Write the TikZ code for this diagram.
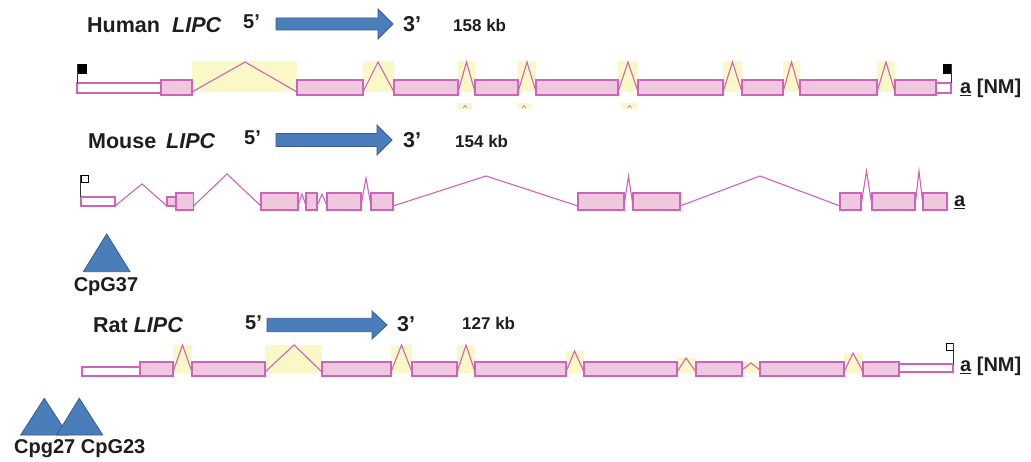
\documentclass[tikz,border=0pt]{standalone}
\usepackage{fontspec}
\setmainfont{Liberation Sans}
\definecolor{exfill}{RGB}{239,200,224}
\definecolor{exline}{RGB}{205,100,185}
\definecolor{intyel}{RGB}{250,248,198}
\definecolor{arblue}{RGB}{74,126,187}
\definecolor{arline}{RGB}{56,93,138}
\definecolor{txt}{RGB}{30,30,30}
\tikzset{
  exon/.style={rectangle, draw=exline, fill=exfill, line width=1.2pt, inner sep=0pt, outer sep=0pt},
  utr/.style={exon, fill=white},
  intron/.style={draw=exline, line width=1.1pt},
  hl/.style={fill=intyel},
  lbl/.style={font=\bfseries\fontsize{20}{24}\selectfont, text=txt, inner sep=0pt},
  spc/.style={font=\bfseries\fontsize{21.5}{26}\selectfont, text=txt, inner sep=0pt},
  kb/.style={font=\bfseries\fontsize{17}{21}\selectfont, text=txt, inner sep=0pt},
  flagfull/.style={rectangle, draw=black, fill=black, line width=0.6pt, inner sep=0pt},
  flagopen/.style={rectangle, draw=black, fill=white, line width=0.8pt, inner sep=0pt},
  flagline/.style={draw=black!80, line width=0.9pt},
  bigarrow/.style={draw=arline, fill=arblue, line width=0.8pt, line join=miter},
  cpg/.style={draw=arline, fill=arblue, line width=0.8pt, line join=miter},
}
\newcommand\Ex[6]{\node[#1, minimum width={#4-#3}, minimum height={#6-#5}] (#2) at ({(#3+#4)/2},{(#5+#6)/2}) {};}
\newcommand\BigArrow[6]{\filldraw[bigarrow] (#1,#4-#5) -- (#2,#4-#5) -- (#2,#4-#6) -- (#3,#4) -- (#2,#4+#6) -- (#2,#4+#5) -- (#1,#4+#5) -- cycle;}
\begin{document}
\begin{tikzpicture}[x=1pt,y=-1pt]
\useasboundingbox[fill=white] (0,0) rectangle (1031,462);

%================ HUMAN =================
\node[spc, anchor=base west] (hName) at (87,33) {Human};
\node[spc, anchor=base west] (hGene) at (172,33) {\textit{LIPC}};
\node[lbl, anchor=base west] (h5) at (243,29) {5’};
\BigArrow{276}{378}{393}{24}{6}{15}
\node[spc, anchor=base west] (h3) at (403,32) {3’};
\node[kb, anchor=base west] (hkb) at (453,32) {158 kb};

\fill[hl] (192,61) rectangle (297,92);
\fill[hl] (363,61) rectangle (394,92);
\fill[hl] (458,61) rectangle (475,92);
\fill[hl] (518,61) rectangle (536,92);
\fill[hl] (618,61) rectangle (638,92);
\fill[hl] (723,61) rectangle (742,92);
\fill[hl] (783,61) rectangle (800,92);
\fill[hl] (877,61) rectangle (895,92);
\fill[hl] (458,103) rectangle (472,109.5);
\fill[hl] (517,103) rectangle (531,109.5);
\fill[hl] (622,103) rectangle (637,109.5);
\draw[intron, line width=0.6pt] (463,108) -- (465,105.5) -- (467,108);
\draw[intron, line width=0.6pt] (522,108) -- (524,105.5) -- (526,108);
\draw[intron, line width=0.6pt] (627.5,108) -- (629.5,105.5) -- (631.5,108);

\Ex{utr}{hU1}{77}{161}{83}{93}
\Ex{exon}{hE1}{161}{192}{80}{95}
\Ex{exon}{hE2}{297}{363}{80}{95}
\Ex{exon}{hE3}{394}{458}{80}{95}
\Ex{exon}{hE4}{475}{518}{80}{95}
\Ex{exon}{hE5}{536}{618}{80}{95}
\Ex{exon}{hE6}{638}{723}{80}{95}
\Ex{exon}{hE7}{742}{783}{80}{95}
\Ex{exon}{hE8}{800}{877}{80}{95}
\Ex{exon}{hE9}{895}{936}{80}{95}
\Ex{utr}{hU2}{936}{951}{83}{93}

\coordinate (hP1) at (245,62);
\coordinate (hP2) at (378,62);
\coordinate (hP3) at (466.5,62);
\coordinate (hP4) at (527,62);
\coordinate (hP5) at (628,62);
\coordinate (hP6) at (732.5,62);
\coordinate (hP7) at (791.5,62);
\coordinate (hP8) at (886,62);
\draw[intron] ([yshift=3pt]hE1.south east) -- (hP1) -- ([yshift=3pt]hE2.south west);
\draw[intron] ([yshift=3pt]hE2.south east) -- (hP2) -- ([yshift=3pt]hE3.south west);
\draw[intron] ([yshift=3pt]hE3.south east) -- (hP3) -- ([yshift=3pt]hE4.south west);
\draw[intron] ([yshift=3pt]hE4.south east) -- (hP4) -- ([yshift=3pt]hE5.south west);
\draw[intron] ([yshift=3pt]hE5.south east) -- (hP5) -- ([yshift=3pt]hE6.south west);
\draw[intron] ([yshift=3pt]hE6.south east) -- (hP6) -- ([yshift=3pt]hE7.south west);
\draw[intron] ([yshift=3pt]hE7.south east) -- (hP7) -- ([yshift=3pt]hE8.south west);
\draw[intron] ([yshift=3pt]hE8.south east) -- (hP8) -- ([yshift=3pt]hE9.south west);

\node[flagfull, minimum width=8pt, minimum height=9pt] (hF1) at (82,68.5) {};
\draw[flagline] (hF1.north west) -- (hF1.north west |- hU1.north);
\node[flagfull, minimum width=8pt, minimum height=9pt] (hF2) at (947,68.5) {};
\draw[flagline] (hF2.north east) -- (hF2.north east |- hU2.north);
\node[lbl, anchor=base west] (hNM) at (960,94) {\underline{a} [NM]};

%================ MOUSE =================
\node[spc, anchor=base west] (mName) at (88,149) {Mouse};
\node[spc, anchor=base west] (mGene) at (166,149) {\textit{LIPC}};
\node[lbl, anchor=base west] (m5) at (244,145) {5’};
\BigArrow{276}{377}{392}{140}{6.5}{15}
\node[spc, anchor=base west] (m3) at (403,148) {3’};
\node[kb, anchor=base west] (mkb) at (455,148) {154 kb};

\Ex{utr}{mU1}{81}{115}{197}{206}
\Ex{exon}{mS1}{167}{176}{197}{206}
\Ex{exon}{mE1}{176}{193.5}{193}{210}
\Ex{exon}{mE2}{261}{298}{193}{210}
\Ex{exon}{mE3}{306}{317}{193}{210}
\Ex{exon}{mE4}{327}{361}{193}{210}
\Ex{exon}{mE5}{371}{393}{193}{210}
\Ex{exon}{mE6}{578}{624}{193}{210}
\Ex{exon}{mE7}{633}{680}{193}{210}
\Ex{exon}{mE8}{840}{861}{193}{210}
\Ex{exon}{mE9}{872}{915}{193}{210}
\Ex{exon}{mE10}{923}{947}{193}{210}

\coordinate (mP0) at (142,184);
\coordinate (mP1) at (227,174);
\coordinate (mP2) at (302,194);
\coordinate (mP3) at (322,194);
\coordinate (mP4) at (366,178);
\coordinate (mP5) at (486,176);
\coordinate (mP6) at (628.5,176);
\coordinate (mP7) at (760,176);
\coordinate (mP8) at (866.5,171);
\coordinate (mP9) at (919,171);
\draw[intron] (mU1.south east) -- (mP0) -- (mS1.south west);
\draw[intron] ([yshift=4pt]mE1.south east) -- (mP1) -- ([yshift=4pt]mE2.south west);
\draw[intron] ([yshift=4pt]mE2.south east) -- (mP2) -- ([yshift=4pt]mE3.south west);
\draw[intron] ([yshift=4pt]mE3.south east) -- (mP3) -- ([yshift=4pt]mE4.south west);
\draw[intron] ([yshift=4pt]mE4.south east) -- (mP4) -- ([yshift=4pt]mE5.south west);
\draw[intron] ([yshift=4pt]mE5.south east) -- (mP5) -- ([yshift=4pt]mE6.south west);
\draw[intron] ([yshift=4pt]mE6.south east) -- (mP6) -- ([yshift=4pt]mE7.south west);
\draw[intron] ([yshift=4pt]mE7.south east) -- (mP7) -- ([yshift=4pt]mE8.south west);
\draw[intron] ([yshift=4pt]mE8.south east) -- (mP8) -- ([yshift=4pt]mE9.south west);
\draw[intron] ([yshift=4pt]mE9.south east) -- (mP9) -- ([yshift=4pt]mE10.south west);

\node[flagopen, minimum width=7pt, minimum height=7pt] (mF1) at (84.5,178.5) {};
\draw[flagline] (mF1.north west) -- (mF1.north west |- mU1.north);
\node[lbl, anchor=base west] (mA) at (954,207) {\underline{a}};

% CpG37
\filldraw[cpg] (106.7,234) -- (130,271.7) -- (83.3,271.7) -- cycle;
\node[lbl, anchor=base] (cpg37) at (106,291.5) {CpG37};

%================ RAT =================
\node[spc, anchor=base west] (rName) at (93,333) {Rat \textit{LIPC}};
\node[lbl, anchor=base west] (r5) at (245,330) {5’};
\BigArrow{267}{372}{387}{325}{6.7}{14}
\node[spc, anchor=base west] (r3) at (397,331) {3’};
\node[kb, anchor=base west] (rkb) at (462,329.5) {127 kb};

\fill[hl] (173,345) rectangle (192,373);
\fill[hl] (265,345) rectangle (322,373);
\fill[hl] (391,345) rectangle (412,373);
\fill[hl] (457,345) rectangle (475,373);
\fill[hl] (566,351) rectangle (584,373);
\fill[hl] (677,358) rectangle (696,373);
\fill[hl] (742,362) rectangle (760,373);
\fill[hl] (844,353) rectangle (863,373);

\Ex{utr}{rU1}{82}{140}{367}{376}
\Ex{exon}{rE1}{140}{173}{362}{376}
\Ex{exon}{rE2}{192}{265}{362}{376}
\Ex{exon}{rE3}{322}{391}{362}{376}
\Ex{exon}{rE4}{412}{457}{362}{376}
\Ex{exon}{rE5}{475}{566}{362}{376}
\Ex{exon}{rE6}{584}{677}{362}{376}
\Ex{exon}{rE7}{696}{742}{362}{376}
\Ex{exon}{rE8}{760}{844}{362}{376}
\Ex{exon}{rE9}{863}{899}{362}{376}
\Ex{utr}{rU2}{899}{953}{364}{372}

\coordinate (rP1) at (182.5,345);
\coordinate (rP2) at (294,345);
\coordinate (rP3) at (401.5,345);
\coordinate (rP4) at (466,345);
\coordinate (rP5) at (574.5,351);
\coordinate (rP6) at (686,358);
\coordinate (rP7) at (751,363);
\coordinate (rP8) at (853,353);
\draw[intron] ([yshift=4pt]rE1.south east) -- (rP1) -- ([yshift=4pt]rE2.south west);
\draw[intron] ([yshift=4pt]rE2.south east) -- (rP2) -- ([yshift=4pt]rE3.south west);
\draw[intron] ([yshift=4pt]rE3.south east) -- (rP3) -- ([yshift=4pt]rE4.south west);
\draw[intron] ([yshift=4pt]rE4.south east) -- (rP4) -- ([yshift=4pt]rE5.south west);
\draw[intron] ([yshift=4pt]rE5.south east) -- (rP5) -- ([yshift=4pt]rE6.south west);
\draw[intron] ([yshift=4pt]rE6.south east) -- (rP6) -- ([yshift=4pt]rE7.south west);
\draw[intron] ([yshift=6pt]rE7.south east) -- (rP7) -- ([yshift=6pt]rE8.south west);
\draw[intron] ([yshift=4pt]rE8.south east) -- (rP8) -- ([yshift=4pt]rE9.south west);

\node[flagopen, minimum width=6.5pt, minimum height=7pt] (rF1) at (949.75,346.5) {};
\draw[flagline] (rF1.north east) -- (rF1.north east |- rU2.north);
\node[lbl, anchor=base west] (rNM) at (960,371.5) {\underline{a} [NM]};

% CpG27 / CpG23
\filldraw[cpg] (44.3,398.3) -- (68,435) -- (20.7,435) -- cycle;
\filldraw[cpg] (79.3,398.3) -- (102.7,435) -- (56.7,435) -- cycle;
\node[lbl, anchor=base west] (cpg2723) at (14,453) {Cpg27 CpG23};
\end{tikzpicture}
\end{document}
